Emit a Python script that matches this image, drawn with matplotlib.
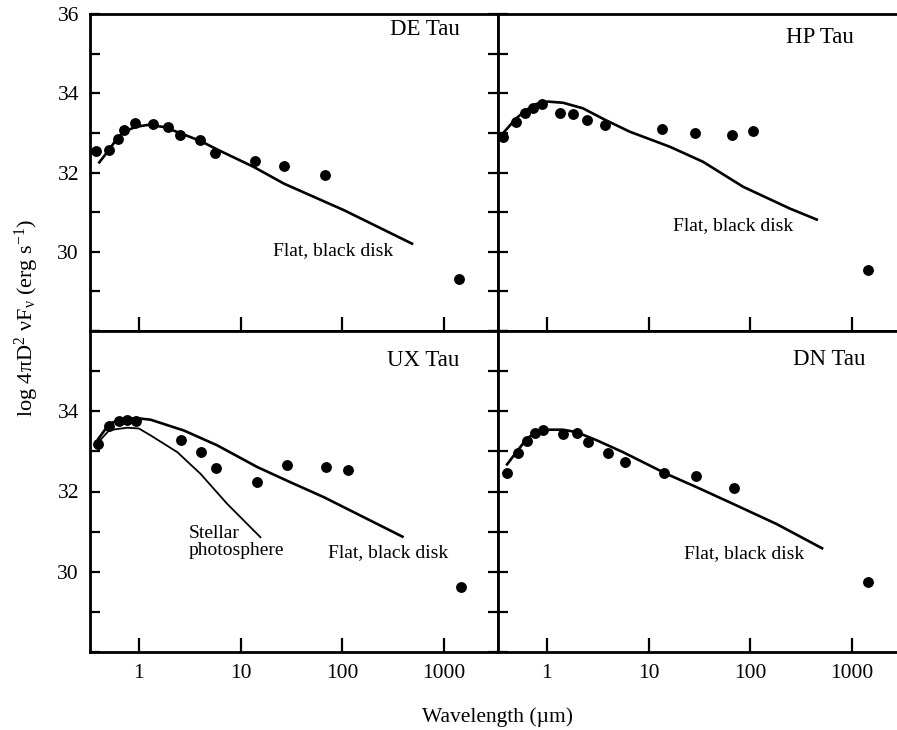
import matplotlib.pyplot as plt
from matplotlib.ticker import NullLocator

plt.rcParams['font.family'] = ['Liberation Serif', 'DejaVu Serif']
plt.rcParams['mathtext.default'] = 'regular'

# photometry: wavelength (micron) and log 4 pi D^2 nu F_nu
de_wl = [0.375, 0.507, 0.622, 0.718, 0.907, 1.38, 1.92, 2.53, 3.98, 5.58, 13.8, 26.9, 67.4, 1423]
de_fl = [32.55, 32.57, 32.84, 33.07, 33.26, 33.22, 33.15, 32.94, 32.82, 32.48, 32.30, 32.16, 31.93, 29.31]
hp_wl = [0.369, 0.499, 0.612, 0.723, 0.901, 1.36, 1.80, 2.50, 3.73, 13.7, 28.5, 66.0, 107, 1455]
hp_fl = [32.89, 33.27, 33.49, 33.63, 33.74, 33.51, 33.47, 33.32, 33.21, 33.10, 32.99, 32.94, 33.04, 29.55]
ux_wl = [0.395, 0.512, 0.635, 0.769, 0.928, 2.61, 4.04, 5.72, 14.4, 28.7, 69.6, 114, 1480]
ux_fl = [33.19, 33.63, 33.75, 33.78, 33.75, 33.29, 32.98, 32.58, 32.24, 32.66, 32.61, 32.53, 29.62]
dn_wl = [0.404, 0.518, 0.635, 0.757, 0.914, 1.44, 1.98, 2.54, 3.99, 5.83, 14.2, 29.0, 69.5, 1460]
dn_fl = [32.47, 32.96, 33.26, 33.46, 33.54, 33.44, 33.46, 33.24, 32.96, 32.73, 32.47, 32.39, 32.09, 29.75]

# flat, black disk models
de_disk_wl = [0.40, 0.51, 0.61, 0.74, 0.93, 1.21, 1.76, 2.57, 4.0, 5.9, 13.5, 26.7, 104, 500]
de_disk_fl = [32.23, 32.58, 32.86, 33.05, 33.15, 33.2, 33.15, 32.99, 32.8, 32.58, 32.14, 31.72, 31.05, 30.19]
hp_disk_wl = [0.369, 0.50, 0.627, 0.787, 1.02, 1.44, 2.26, 3.73, 6.53, 16.2, 34.4, 85.3, 246, 465]
hp_disk_fl = [32.99, 33.37, 33.58, 33.73, 33.79, 33.76, 33.62, 33.33, 33.03, 32.65, 32.27, 31.64, 31.09, 30.80]
ux_disk_wl = [0.39, 0.512, 0.66, 0.928, 1.30, 2.77, 5.9, 14.6, 31.0, 65.9, 163, 403]
ux_disk_fl = [33.28, 33.69, 33.79, 33.83, 33.79, 33.52, 33.15, 32.61, 32.23, 31.86, 31.36, 30.86]
dn_disk_wl = [0.398, 0.518, 0.635, 0.787, 1.02, 1.44, 1.95, 3.07, 5.61, 15.0, 29.6, 63, 182, 524]
dn_disk_fl = [32.65, 33.03, 33.32, 33.48, 33.54, 33.54, 33.48, 33.28, 32.98, 32.44, 32.11, 31.73, 31.19, 30.57]

# UX Tau stellar photosphere
ux_star_wl = [0.395, 0.512, 0.769, 1.0, 1.30, 2.39, 4.04, 7.40, 15.7]
ux_star_fl = [33.22, 33.53, 33.59, 33.57, 33.4, 32.98, 32.44, 31.69, 30.86]

W, H = 897, 730
fig = plt.figure(figsize=(W / 100, H / 100), dpi=100)

def box(x0, y0, x1, y1):
    return [x0 / W, 1 - y1 / H, (x1 - x0) / W, (y1 - y0) / H]

ax_de = fig.add_axes(box(90, 14, 498, 331))
ax_hp = fig.add_axes(box(498, 14, 906, 331))
ax_ux = fig.add_axes(box(90, 331, 498, 652))
ax_dn = fig.add_axes(box(498, 331, 906, 652))

yt = list(range(28, 37))
for ax in (ax_de, ax_hp, ax_ux, ax_dn):
    ax.set_xscale('log')
    ax.set_xlim(0.33, 3420)
    ax.set_ylim(28, 36)
    ax.xaxis.set_minor_locator(NullLocator())
    ax.set_xticks([1, 10, 100, 1000])
    ax.set_yticks(yt)
    for s in ax.spines.values():
        s.set_linewidth(2.0)
    ax.tick_params(axis='x', direction='in', length=10, width=1.6, pad=9,
                   labelsize=15.5, top=False)
    ax.tick_params(axis='y', direction='in', length=7, width=1.6, pad=8,
                   labelsize=15.5)

ax_de.set_yticklabels([str(v) if v % 2 == 0 and v > 28 else '' for v in yt])
ax_ux.set_yticklabels([str(v) if v % 2 == 0 and 28 < v < 36 else '' for v in yt])
ax_de.tick_params(axis='y', right=True)
ax_ux.tick_params(axis='y', right=True)
for ax in (ax_hp, ax_dn):
    ax.tick_params(axis='y', labelleft=False)
for ax in (ax_de, ax_hp):
    ax.tick_params(axis='x', labelbottom=False)
for ax in (ax_ux, ax_dn):
    ax.set_xticklabels(['1', '10', '100', '1000'])

dot = dict(ls='none', marker='o', ms=6.8, color='black', zorder=3)
line = dict(color='black', lw=1.9, solid_capstyle='butt')
txt = dict(fontsize=14, ha='left', va='center')

ax_de.plot(de_disk_wl, de_disk_fl, **line)
ax_de.plot(de_wl, de_fl, **dot)
ax_de.text(21.1, 30.04, 'Flat, black disk', **txt)
ax_de.text(0.735, 0.952, 'DE Tau', transform=ax_de.transAxes, fontsize=16.5,
           ha='left', va='center')

ax_hp.plot(hp_disk_wl, hp_disk_fl, **line)
ax_hp.plot(hp_wl, hp_fl, **dot)
ax_hp.text(17.3, 30.67, 'Flat, black disk', **txt)
ax_hp.text(0.706, 0.927, 'HP Tau', transform=ax_hp.transAxes, fontsize=16.5,
           ha='left', va='center')

ax_ux.plot(ux_disk_wl, ux_disk_fl, **line)
ax_ux.plot(ux_star_wl, ux_star_fl, color='black', lw=1.3)
ax_ux.plot(ux_wl, ux_fl, **dot)
ax_ux.text(72.2, 30.48, 'Flat, black disk', **txt)
ax_ux.text(3.09, 30.73, 'Stellar\nphotosphere', linespacing=1.0, **txt)
ax_ux.text(0.728, 0.907, 'UX Tau', transform=ax_ux.transAxes, fontsize=16.5,
           ha='left', va='center')

ax_dn.plot(dn_disk_wl, dn_disk_fl, **line)
ax_dn.plot(dn_wl, dn_fl, **dot)
ax_dn.text(22.4, 30.46, 'Flat, black disk', **txt)
ax_dn.text(0.723, 0.91, 'DN Tau', transform=ax_dn.transAxes, fontsize=16.5,
           ha='left', va='center')

fig.text(27 / W, 1 - 318 / H, 'log 4πD$^{2}$ νF$_{ν}$ (erg s$^{-1}$)',
         rotation=90, ha='center', va='center', fontsize=16)
fig.text(497 / W, 1 - 717 / H, 'Wavelength (µm)', ha='center', va='center',
         fontsize=15.5)

fig.savefig('out.png', dpi=100)
